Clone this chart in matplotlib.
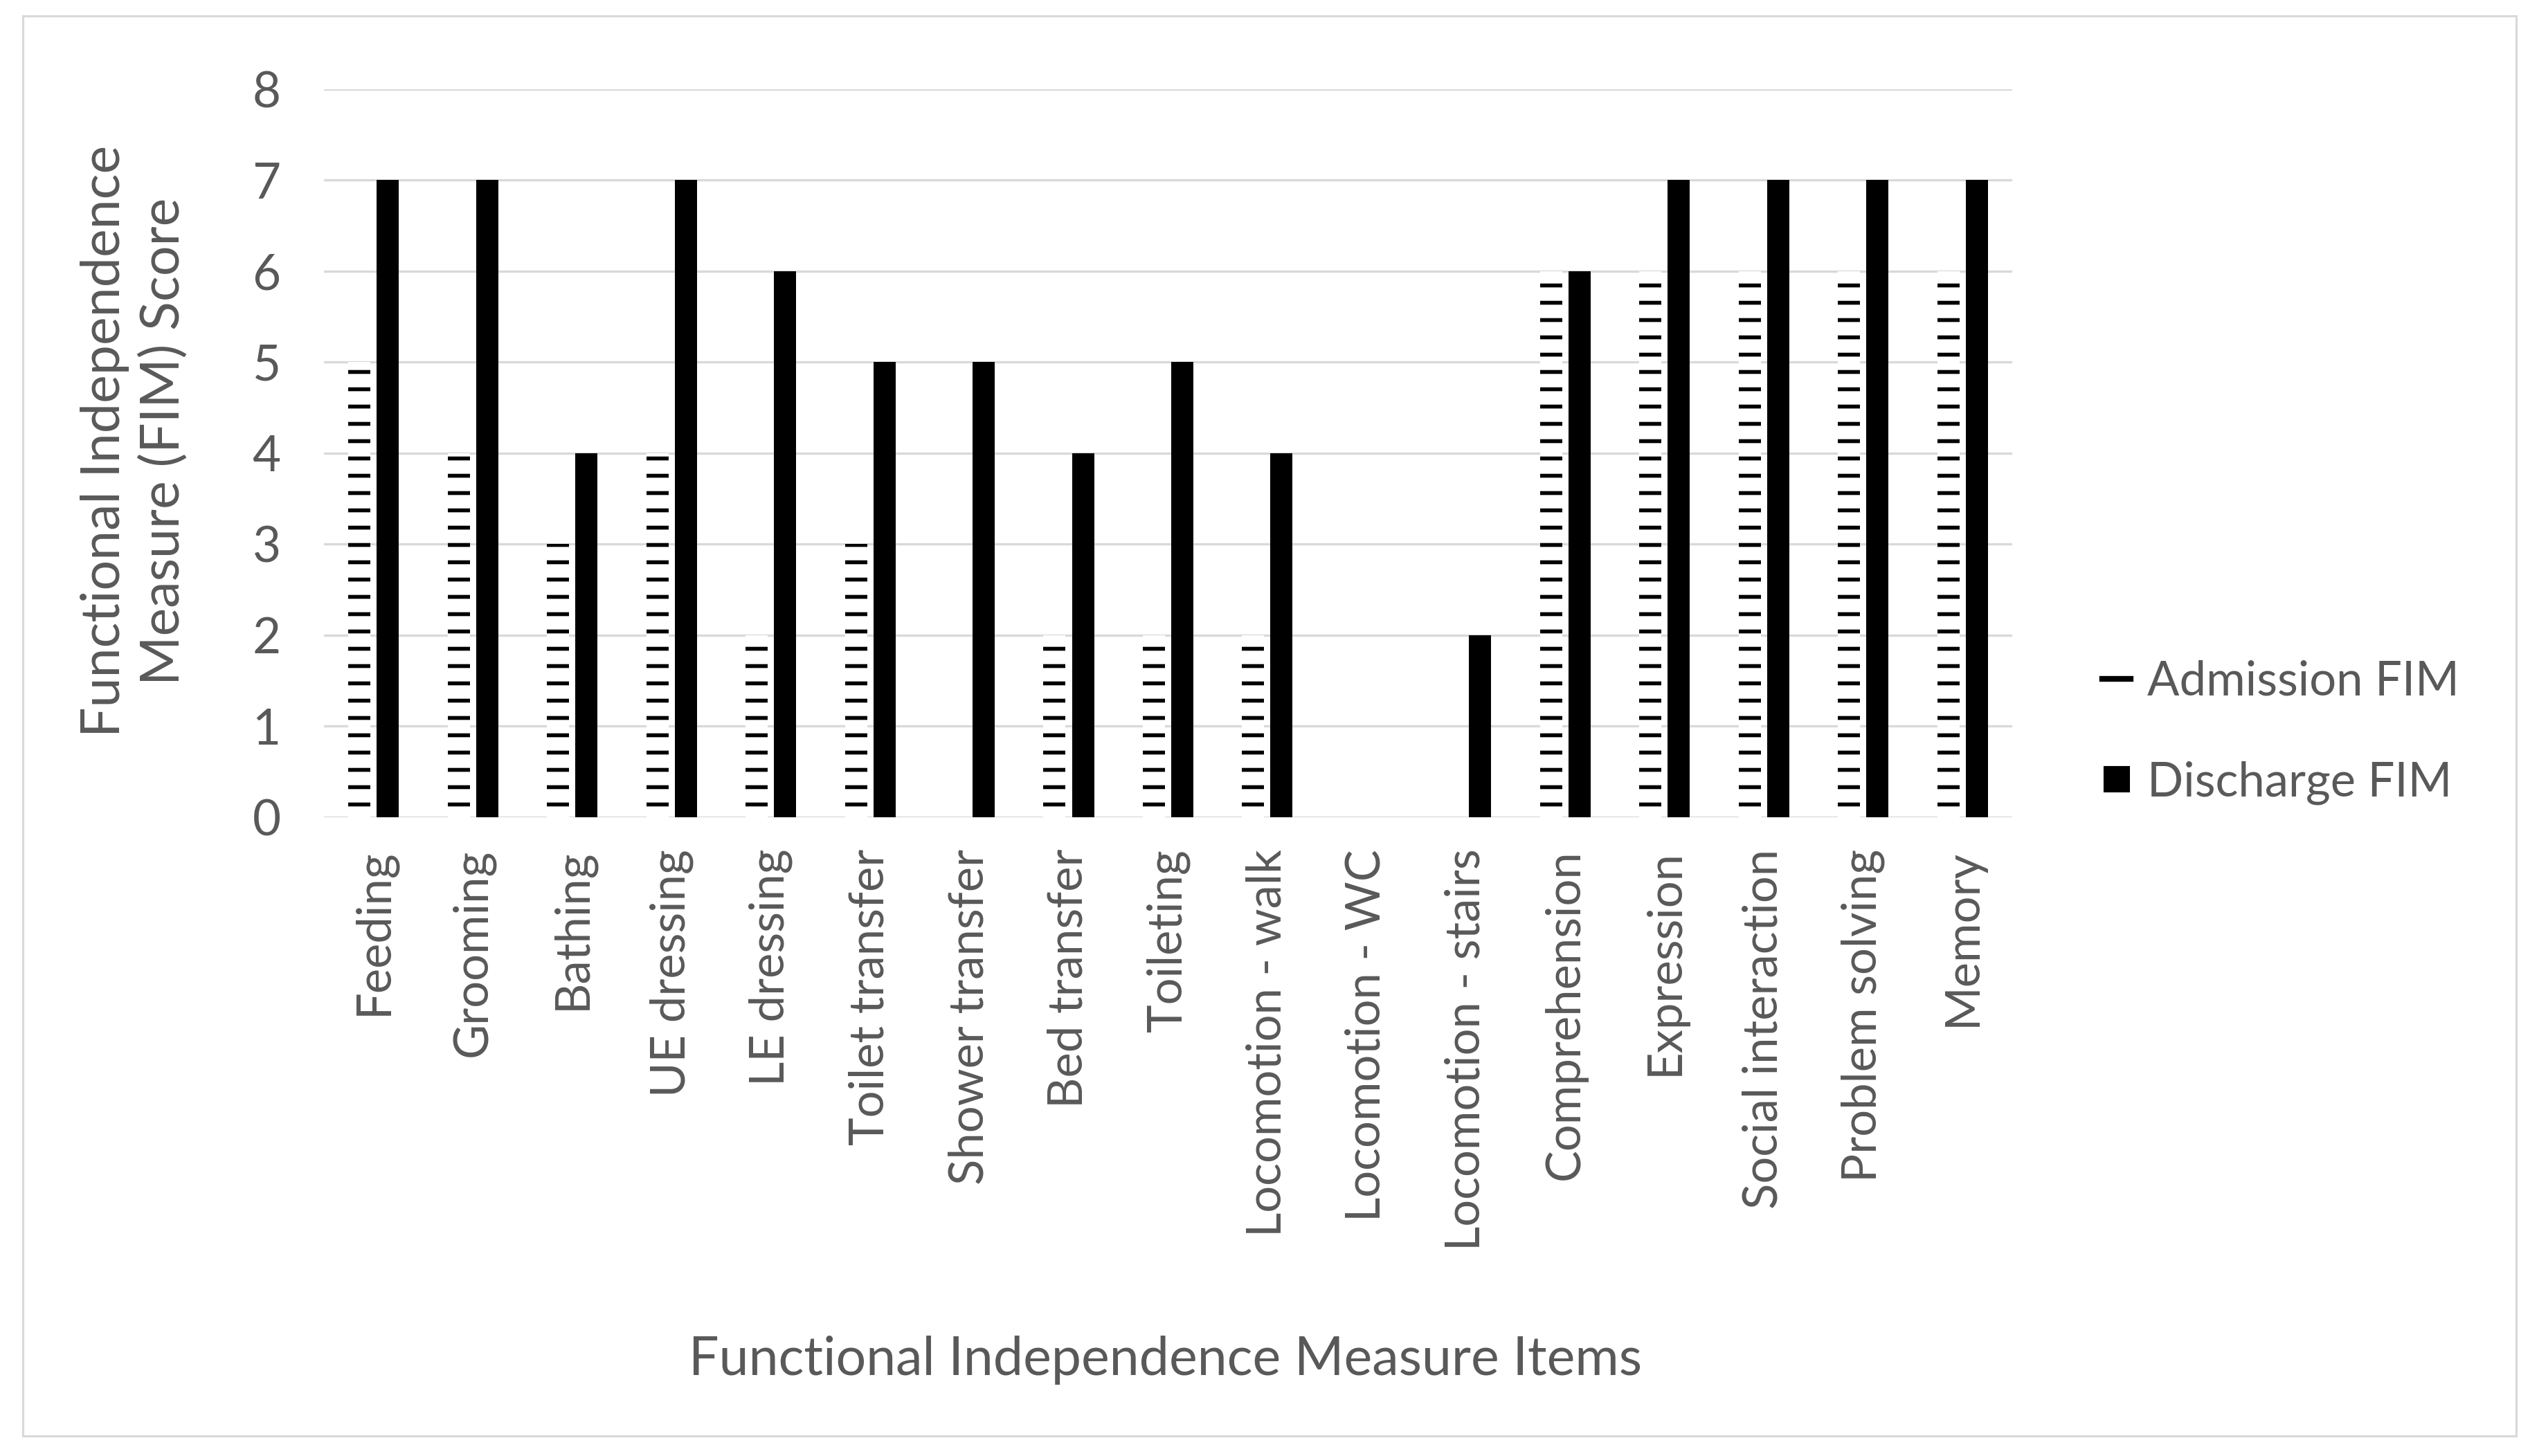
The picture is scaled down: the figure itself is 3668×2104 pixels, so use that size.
import numpy as np
import matplotlib
matplotlib.use("Agg")
import matplotlib.pyplot as plt
from matplotlib.lines import Line2D
from matplotlib.patches import Rectangle

# FIM items and scores
items = ["Feeding", "Grooming", "Bathing", "UE dressing", "LE dressing",
         "Toilet transfer", "Shower transfer", "Bed transfer", "Toileting",
         "Locomotion - walk", "Locomotion - WC", "Locomotion - stairs",
         "Comprehension", "Expression", "Social interaction",
         "Problem solving", "Memory"]
admission = [5, 4, 3, 4, 2, 3, 0, 2, 2, 2, 0, 0, 6, 6, 6, 6, 6]
discharge = [7, 7, 4, 7, 6, 5, 5, 4, 5, 4, 0, 2, 6, 7, 7, 7, 7]
yticks = [0, 1, 2, 3, 4, 5, 6, 7, 8]

text_col = "#595959"
grid_col = "#d9d9d9"

plt.rcParams["font.family"] = ["Lato", "DejaVu Sans"]
plt.rcParams["hatch.linewidth"] = 2.7

# dpi 150 so the '-' hatch spacing comes out close to the original
fig = plt.figure(figsize=(3668 / 150, 2104 / 150), dpi=150)
ax = fig.add_axes([0.1276, 0.4387, 0.6649, 0.5])

x = np.arange(len(items))
w = 0.223
off = 0.143
ax.bar(x - off, admission, w, facecolor="white", edgecolor="black",
       hatch="-", linewidth=0, zorder=3)
ax.bar(x + off, discharge, w, color="black", linewidth=0, zorder=3)

ax.set_xlim(-0.5, len(items) - 0.5)
ax.set_ylim(0, 8)
ax.set_yticks(yticks)
ax.set_xticks(x)
ax.set_xticklabels(items, rotation=90, fontsize=33, color=text_col)
ax.tick_params(axis="y", labelsize=34, labelcolor=text_col, length=0, pad=30)
ax.tick_params(axis="x", length=0, pad=22)
ax.grid(axis="y", color=grid_col, linewidth=1.6, zorder=0)
for s in ax.spines.values():
    s.set_visible(False)

fig.text(0.053, 0.697, "Functional Independence\nMeasure (FIM) Score",
         rotation=90, ha="center", va="center", fontsize=37,
         color=text_col, linespacing=1.25)
fig.text(0.459, 0.066, "Functional Independence Measure Items",
         ha="center", va="center", fontsize=37, color=text_col)

handles = [Line2D([], [], color="black", lw=4),
           Line2D([], [], color="black", marker="s", ls="", markersize=17)]
fig.legend(handles, ["Admission FIM", "Discharge FIM"], loc="center left",
           bbox_to_anchor=(0.828, 0.497), frameon=False, fontsize=33,
           labelcolor=text_col, handlelength=0.6, handletextpad=0.35,
           labelspacing=1.2, borderpad=0, borderaxespad=0)

# light outer frame around the whole chart
fig.add_artist(Rectangle((0.009, 0.014), 0.982, 0.975, transform=fig.transFigure,
                         fill=False, edgecolor=grid_col, linewidth=1.5))

fig.savefig("out.png", dpi=150)
